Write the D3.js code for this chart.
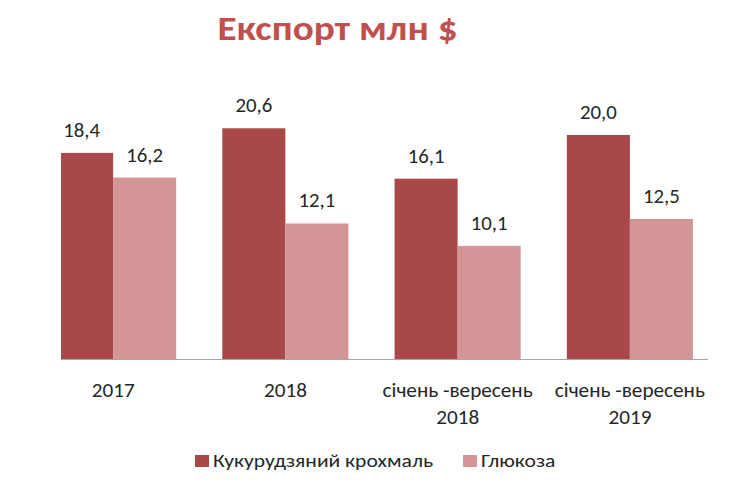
<!DOCTYPE html>
<html><head><meta charset="utf-8">
<script src="https://cdn.jsdelivr.net/npm/d3@7"></script>
<style>
html,body{margin:0;padding:0;background:#fff;}
text{font-family:Carlito,Lato,"Open Sans",sans-serif;}
</style></head>
<body><svg id="c" width="740" height="488"></svg>
<script>
const categories = [["2017"],["2018"],["січень -вересень","2018"],["січень -вересень","2019"]];
const seriesNames = ["Кукурудзяний крохмаль","Глюкоза"];
const starch = [18.4, 20.6, 16.1, 20.0];
const glucose = [16.2, 12.1, 10.1, 12.5];
const colors = ["#a84848","#d39595"];

const svg = d3.select("#c");
const W = 740, H = 488;
const base = 359;
const x0 = d3.scaleBand().domain(d3.range(categories.length)).range([27, 716]).paddingInner(0.268).paddingOuter(0.134);
const x1 = d3.scaleBand().domain(d3.range(seriesNames.length)).range([0, x0.bandwidth()]);
const y = d3.scaleLinear().domain([0, 20.0]).range([base, base - 224]);

function stext(parent, x, yy, sx, size, txt, anchor){
  return parent.append("text").attr("transform", `translate(${x},${yy}) scale(${sx},1)`)
    .attr("text-anchor", anchor || "middle").attr("font-size", size).attr("fill", "#262626").text(txt);
}

stext(svg, 337.5, 40, 1.12, 35, "Експорт млн $").attr("font-weight","bold").attr("fill","#c0504d");

svg.append("defs").append("clipPath").attr("id","pc").append("rect")
  .attr("x", 61).attr("y", 0).attr("width", 680).attr("height", H);

const plot = svg.append("g").attr("clip-path","url(#pc)");
const data = [starch, glucose];
const groups = plot.selectAll("g.grp").data(categories).join("g").attr("class","grp")
  .attr("transform",(d,i)=>`translate(${x0(i)},0)`);

groups.each(function(c, i){
  const g = d3.select(this);
  data.forEach((s, k)=>{
    g.append("rect")
      .attr("x", x1(k)).attr("y", y(s[i])).attr("width", x1.bandwidth()).attr("height", base - y(s[i]))
      .attr("fill", colors[k]);
    stext(g, x1(k) + x1.bandwidth()/2, y(s[i]) - 16, 1.04, 20, d3.format(".1f")(s[i]).replace(".", ","));
  });
  c.forEach((line, j)=>{
    stext(g, x0.bandwidth()/2, 397 + j*27, 1.01, 21, line);
  });
});

svg.append("line").attr("x1", 61).attr("x2", 708).attr("y1", base + 0.5).attr("y2", base + 0.5)
  .attr("stroke", "#a6a6a6").attr("stroke-width", 1);

const legendX = [195, 463];
seriesNames.forEach((n, k)=>{
  svg.append("rect").attr("x", legendX[k]).attr("y", 455).attr("width", 14).attr("height", 12).attr("fill", colors[k]);
  stext(svg, legendX[k] + 18, 467, 1.2, 18, n, "start");
});
</script></body></html>
